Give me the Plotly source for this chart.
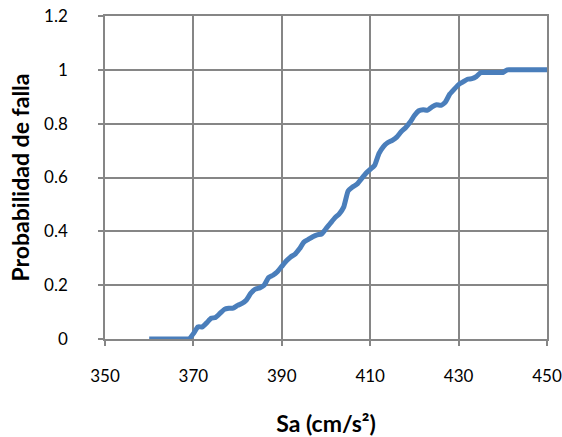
import plotly.graph_objects as go

sa = list(range(360, 451))
prob = ([0.0] * 10 +
        [0.02, 0.045, 0.045, 0.06, 0.077, 0.08, 0.095, 0.11, 0.114, 0.115,
         0.125, 0.132, 0.145, 0.17, 0.185, 0.19, 0.2, 0.228, 0.237, 0.25,
         0.27, 0.29, 0.305, 0.315, 0.335, 0.36, 0.37, 0.38, 0.387, 0.39,
         0.41, 0.43, 0.45, 0.465, 0.49, 0.55, 0.565, 0.575, 0.595, 0.615,
         0.63, 0.645, 0.69, 0.715, 0.73, 0.738, 0.75, 0.77, 0.785, 0.805,
         0.83, 0.848, 0.852, 0.85, 0.862, 0.87, 0.868, 0.88, 0.91, 0.928,
         0.945, 0.955, 0.965, 0.967, 0.975, 0.99, 0.99, 0.99, 0.99, 0.99,
         0.99] +
        [1.0] * 10)

x_ticks = [350, 370, 390, 410, 430, 450]
y_ticks = [0, 0.2, 0.4, 0.6, 0.8, 1, 1.2]
y_tick_text = ["0", "0.2", "0.4", "0.6", "0.8", "1", "1.2"]

grid = "#868686"
fig = go.Figure()
fig.add_trace(go.Scatter(x=sa, y=prob, mode="lines",
                         line=dict(color="#4A7EBB", width=5, shape="spline", smoothing=0.4),
                         showlegend=False, hoverinfo="skip"))

fig.update_layout(
    width=562, height=437,
    margin=dict(l=105, r=15, t=16, b=98),
    paper_bgcolor="white", plot_bgcolor="white",
    font=dict(family="Lato, 'Open Sans', sans-serif", size=17, color="black"),
)
fig.update_xaxes(range=[350, 450], tickvals=x_ticks, showgrid=True, gridcolor=grid, gridwidth=1.5,
                 showline=True, linecolor=grid, linewidth=1.5, mirror=True,
                 ticks="outside", ticklen=5, tickcolor=grid, tickwidth=1.5,
                 ticklabelstandoff=16, zeroline=False, automargin=False,
                 title=dict(text="<b>Sa (cm/s²)</b>", font=dict(size=23), standoff=35))
fig.update_yaxes(range=[0, 1.2], tickvals=y_ticks, ticktext=y_tick_text, showgrid=True, gridcolor=grid, gridwidth=1.5,
                 showline=True, linecolor=grid, linewidth=1.5, mirror=True,
                 ticks="outside", ticklen=5, tickcolor=grid, tickwidth=1.5,
                 ticklabelstandoff=27, zeroline=False, automargin=False,
                 title=dict(text="<b>Probabilidad de falla</b>", font=dict(size=23), standoff=8))

fig.write_html("out.html", config={"displayModeBar": False},
               post_script="document.body.style.margin='0';")
